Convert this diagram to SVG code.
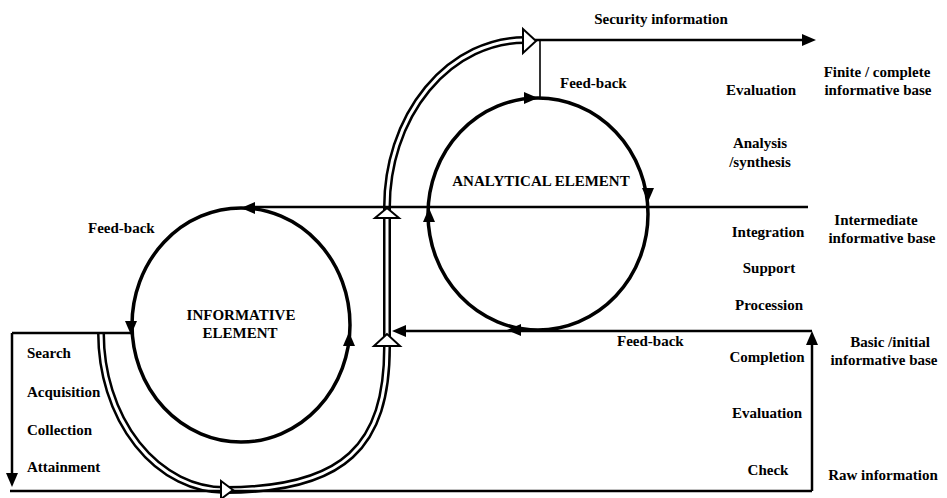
<svg xmlns="http://www.w3.org/2000/svg" width="947" height="498" viewBox="0 0 947 498">
<style>
text{font-family:"Liberation Serif","Times New Roman",serif;font-weight:bold;font-size:15px;fill:#000}
.m{text-anchor:middle}
.ln{stroke:#000;stroke-width:2.5;fill:none}
.thin{stroke:#000;stroke-width:1.6;fill:none}
.circ{stroke:#000;stroke-width:3.5;fill:none}
.ah{fill:#000;stroke:none}
.tubeo{stroke:#000;stroke-width:8;fill:none}
.tubei{stroke:#fff;stroke-width:3;fill:none}
.ho{fill:#fff;stroke:#000;stroke-width:2}
</style>
<rect width="947" height="498" fill="#fff"/>

<g id="informative-element">
<ellipse class="circ" cx="241" cy="325" rx="109" ry="117"/>
<polygon class="ah" points="241,208 255,202 255,214"/>
<polygon class="ah" points="131,335 125,321 137,321"/>
<polygon class="ah" points="349,332 343,346 355,346"/>
<text class="m" x="241" y="320">INFORMATIVE</text>
<text class="m" x="240" y="338">ELEMENT</text>
</g>

<g id="analytical-element">
<ellipse class="circ" cx="538" cy="214" rx="110" ry="116"/>
<polygon class="ah" points="538,98 524,92 524,104"/>
<polygon class="ah" points="648,202 642,188 654,188"/>
<polygon class="ah" points="507,330 521,324 521,336"/>
<polygon class="ah" points="429,208 423,222 435,222"/>
<text class="m" x="541" y="186">ANALYTICAL ELEMENT</text>
</g>

<g id="connectors">
<!-- double tube -->
<path class="tubeo" d="M101,333 A124,157 0 0 0 225,490 C345,490 387,445 387,347 L387,207 A138,167 0 0 1 525,40"/>
<path class="tubei" d="M101,333 A124,157 0 0 0 225,490 C345,490 387,445 387,347 L387,207 A138,167 0 0 1 525,40"/>
<!-- lines -->
<line class="ln" x1="250" y1="207" x2="808" y2="207"/>
<line class="ln" x1="400" y1="331" x2="812" y2="331"/>
<line class="ln" x1="10" y1="491" x2="812" y2="491"/>
<line class="ln" x1="812" y1="491" x2="812" y2="342"/>
<line class="ln" x1="12" y1="333" x2="131" y2="333"/>
<line class="ln" x1="12" y1="333" x2="12" y2="475"/>
<line class="ln" x1="535" y1="40" x2="805" y2="40"/>
<line class="thin" x1="540" y1="40" x2="540" y2="98"/>
<!-- arrowheads -->
<polygon class="ah" points="392,331 406,325 406,337"/>
<polygon class="ah" points="812,331 806,345 818,345"/>
<polygon class="ah" points="12,487 6,473 18,473"/>
<polygon class="ah" points="816,40 802,34 802,46"/>
<!-- hollow arrowheads -->
<polygon class="ho" points="233,490 221,481 221,499"/>
<polygon class="ho" points="387,334 374,346 400,346"/>
<polygon class="ho" points="387,208 375,218 399,218"/>
<polygon class="ho" points="536,41 523,29 523,53"/>
</g>

<g id="labels">
<text class="m" x="661" y="24">Security information</text>
<text class="m" x="877" y="77">Finite / complete</text>
<text class="m" x="878" y="95">informative base</text>
<text x="560" y="88">Feed-back</text>
<text class="m" x="761" y="95">Evaluation</text>
<text class="m" x="760" y="148">Analysis</text>
<text class="m" x="760" y="167">/synthesis</text>
<text x="88" y="233">Feed-back</text>
<text class="m" x="876" y="225">Intermediate</text>
<text class="m" x="882" y="243">informative base</text>
<text class="m" x="768" y="237">Integration</text>
<text class="m" x="769" y="273">Support</text>
<text class="m" x="769" y="310">Procession</text>
<text x="617" y="346">Feed-back</text>
<text class="m" x="890" y="347">Basic /initial</text>
<text class="m" x="884" y="365">informative base</text>
<text class="m" x="767" y="362">Completion</text>
<text class="m" x="767" y="418">Evaluation</text>
<text class="m" x="768" y="475">Check</text>
<text class="m" x="883" y="480">Raw information</text>
<text x="27" y="358">Search</text>
<text x="27" y="397">Acquisition</text>
<text x="27" y="435">Collection</text>
<text x="27" y="472">Attainment</text>
</g>
</svg>
